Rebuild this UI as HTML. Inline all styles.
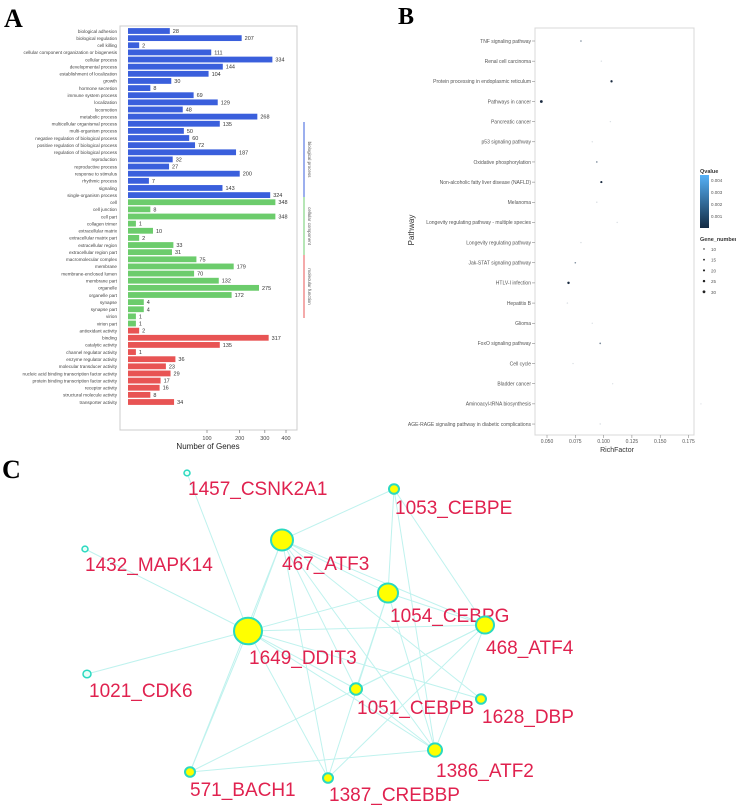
<!DOCTYPE html>
<html><head><meta charset="utf-8">
<style>
html,body{margin:0;padding:0;background:#fff;}
body{width:736px;height:808px;overflow:hidden;position:relative;font-family:"Liberation Sans",sans-serif;}
svg{position:absolute;left:0;top:0;}
</style></head>
<body>
<svg id="fig" width="736" height="808" viewBox="0 0 736 808">
<text x="4" y="27" font-family="Liberation Serif" font-weight="bold" font-size="26">A</text>
<text x="398" y="24" font-family="Liberation Serif" font-weight="bold" font-size="24">B</text>
<text x="2" y="478" font-family="Liberation Serif" font-weight="bold" font-size="26">C</text>
<g id="pa"></g>
<g id="pb"></g>
<g id="pc"></g>
</svg>
<script>
const NS="http://www.w3.org/2000/svg";
function mk(p,t,a){const e=document.createElementNS(NS,t);for(const k in a)e.setAttribute(k,a[k]);p.appendChild(e);return e;}

// ---------- Panel A data ----------
const goTerms=["biological adhesion","biological regulation","cell killing","cellular component organization or biogenesis","cellular process","developmental process","establishment of localization","growth","hormone secretion","immune system process","localization","locomotion","metabolic process","multicellular organismal process","multi-organism process","negative regulation of biological process","positive regulation of biological process","regulation of biological process","reproduction","reproductive process","response to stimulus","rhythmic process","signaling","single-organism process","cell","cell junction","cell part","collagen trimer","extracellular matrix","extracellular matrix part","extracellular region","extracellular region part","macromolecular complex","membrane","membrane-enclosed lumen","membrane part","organelle","organelle part","synapse","synapse part","virion","virion part","antioxidant activity","binding","catalytic activity","channel regulator activity","enzyme regulator activity","molecular transducer activity","nucleic acid binding transcription factor activity","protein binding transcription factor activity","receptor activity","structural molecule activity","transporter activity"];
const goValues=[28,207,2,111,334,144,104,30,8,69,129,48,268,135,50,60,72,187,32,27,200,7,143,324,348,8,348,1,10,2,33,31,75,179,70,132,275,172,4,4,1,1,2,317,135,1,36,23,29,17,16,8,34];
const goGroups=[0,0,0,0,0,0,0,0,0,0,0,0,0,0,0,0,0,0,0,0,0,0,0,0,1,1,1,1,1,1,1,1,1,1,1,1,1,1,1,1,1,1,2,2,2,2,2,2,2,2,2,2,2];
const goTicks=[100,200,300,400];
const pa=document.getElementById('pa');
const ax0=128,ak=7.9,ay0=31,ay1=402;
const ax=v=>ax0+Math.sqrt(v)*ak;
const ay=i=>ay0+i*(ay1-ay0)/(goTerms.length-1);
const cols=["#3a5fdc","#6ccc6c","#e85454"];
mk(pa,'rect',{x:120,y:26,width:177,height:404,fill:'none',stroke:'#ccc','stroke-width':1});
goTerms.forEach((t,i)=>{
  const y=ay(i);
  const r=mk(pa,'rect',{x:ax0,y:y-2.9,width:ax(goValues[i])-ax0,height:5.8,fill:cols[goGroups[i]]});
  
  
  const v=mk(pa,'text',{x:ax(goValues[i])+3,y:y+2,'font-size':5.5,fill:'#333'});v.textContent=goValues[i];
  
  
  const l=mk(pa,'text',{x:117,y:y+1.8,'font-size':4.6,fill:'#444','text-anchor':'end'});l.textContent=t;
  
  
});
goTicks.forEach(v=>{
  mk(pa,'line',{x1:ax(v),x2:ax(v),y1:430,y2:433,stroke:'#666','stroke-width':.6});
  const t=mk(pa,'text',{x:ax(v),y:440,'font-size':5.5,fill:'#444','text-anchor':'middle'});t.textContent=v;
  
  
});
{const t=mk(pa,'text',{x:208,y:449,'font-size':8,fill:'#222','text-anchor':'middle'});t.textContent="Number of Genes";

}
[["#3a5fdc",122,197,"biological process"],["#6ccc6c",197,255,"cellular component"],["#e85454",255,318,"molecular function"]].forEach(g=>{
  mk(pa,'line',{x1:304,x2:304,y1:g[1],y2:g[2],stroke:g[0],'stroke-width':1});
  const t=mk(pa,'text',{x:308,y:(g[1]+g[2])/2,'font-size':4.5,fill:'#555','text-anchor':'middle',transform:`rotate(90 308 ${(g[1]+g[2])/2})`});t.textContent=g[3];
  
  
});

// ---------- Panel B data ----------
const pathways=["TNF signaling pathway","Renal cell carcinoma","Protein processing in endoplasmic reticulum","Pathways in cancer","Pancreatic cancer","p53 signaling pathway","Oxidative phosphorylation","Non-alcoholic fatty liver disease (NAFLD)","Melanoma","Longevity regulating pathway - multiple species","Longevity regulating pathway","Jak-STAT signaling pathway","HTLV-I infection","Hepatitis B","Glioma","FoxO signaling pathway","Cell cycle","Bladder cancer","Aminoacyl-tRNA biosynthesis","AGE-RAGE signaling pathway in diabetic complications"];
const richFactor=[0.080,0.098,0.107,0.045,0.106,0.090,0.094,0.098,0.094,0.112,0.080,0.075,0.069,0.068,0.090,0.097,0.073,0.108,0.186,0.097];
const geneNum=[12,8,22,30,8,9,12,20,10,9,9,12,25,9,8,14,9,7,6,10];
const rfTicks=[0.05,0.075,0.1,0.125,0.15,0.175];
const rfTickLabels=["0.050","0.075","0.100","0.125","0.150","0.175"];
const pb=document.getElementById('pb');
const bx=v=>547+(v-0.05)/0.025*28.3;
const by=i=>41+i*20.16;
mk(pb,'rect',{x:535,y:28,width:159,height:407,fill:'none',stroke:'#d8d8d8','stroke-width':1});
pathways.forEach((p,i)=>{
  mk(pb,'line',{x1:532,x2:535,y1:by(i),y2:by(i),stroke:'#777','stroke-width':.5});
  const t=mk(pb,'text',{x:531,y:by(i)+1.8,'font-size':5,fill:'#555','text-anchor':'end'});t.textContent=p;
  
  
  const g=geneNum[i];
  const c=mk(pb,'circle',{cx:bx(richFactor[i]),cy:by(i),r:0.4+g/30,fill:g>=20?'#1a2a40':(g>=12?'#7a8a9a':'#d8dde2')});
  
  
});
rfTicks.forEach((v,i)=>{
  mk(pb,'line',{x1:bx(v),x2:bx(v),y1:435,y2:438,stroke:'#777','stroke-width':.5});
  const t=mk(pb,'text',{x:bx(v),y:443,'font-size':5,fill:'#555','text-anchor':'middle'});t.textContent=rfTickLabels[i];
  
  
});
{const t=mk(pb,'text',{x:617,y:452,'font-size':7,fill:'#333','text-anchor':'middle'});t.textContent="RichFactor";

const t2=mk(pb,'text',{x:414,y:230,'font-size':8,fill:'#333','text-anchor':'middle',transform:'rotate(-90 414 230)'});t2.textContent="Pathway";
}
const defs=mk(pb,'defs',{});const lg=mk(defs,'linearGradient',{id:'qg',x1:0,y1:0,x2:0,y2:1});
mk(lg,'stop',{offset:0,'stop-color':'#56b1f7'});mk(lg,'stop',{offset:1,'stop-color':'#132b43'});
{const t=mk(pb,'text',{x:700,y:173,'font-size':5.5,'font-weight':'bold',fill:'#333'});t.textContent="Qvalue";
}
mk(pb,'rect',{x:700,y:175,width:9,height:53,fill:'url(#qg)'});
["0.004","0.003","0.002","0.001"].forEach((s,i)=>{const t=mk(pb,'text',{x:711,y:182+i*12,'font-size':4.5,fill:'#555'});t.textContent=s;
});
{const t=mk(pb,'text',{x:700,y:241,'font-size':5.5,'font-weight':'bold',fill:'#333'});t.textContent="Gene_number";
}
[10,15,20,25,30].forEach((g,i)=>{mk(pb,'circle',{cx:704,cy:249+i*10.7,r:0.4+g/30,fill:'#222'});
const t=mk(pb,'text',{x:711,y:251+i*10.7,'font-size':4.5,fill:'#555'});t.textContent=g;
});

// ---------- Panel C ----------
const nodeNames=["1457_CSNK2A1","1053_CEBPE","467_ATF3","1432_MAPK14","1054_CEBPG","1649_DDIT3","468_ATF4","1021_CDK6","1051_CEBPB","1628_DBP","1386_ATF2","571_BACH1","1387_CREBBP"];
const nodeSize=[3,5,11,3,10,14,9,4,6,5,7,5,5];
const nodeX=[187,394,282,85,388,248,485,87,356,481,435,190,328];
const nodeY=[473,489,540,549,593,631,625,674,689,699,750,772,778];
const labelX=[188,395,282,85,390,249,486,89,357,482,436,190,329];
const labelY=[495,514,570,571,622,664,654,697,714,723,777,796,801];
const edges=[[5,0],[5,3],[5,7],[5,2],[5,4],[5,6],[5,8],[5,9],[5,10],[5,11],[5,12],[2,1],[2,4],[2,6],[2,8],[2,9],[2,10],[2,12],[1,4],[1,6],[1,10],[4,6],[4,8],[4,10],[4,12],[6,8],[6,10],[6,11],[8,10],[11,10],[12,6],[2,11]];
const pc=document.getElementById('pc');
edges.forEach(e=>{const l=mk(pc,'line',{x1:nodeX[e[0]],y1:nodeY[e[0]],x2:nodeX[e[1]],y2:nodeY[e[1]],stroke:'#bff2ee','stroke-width':1});
});
nodeNames.forEach((n,i)=>{
  const c=mk(pc,'ellipse',{cx:nodeX[i],cy:nodeY[i],rx:nodeSize[i],ry:nodeSize[i]*0.95,fill:'#ffff00',stroke:'#2ad9c0','stroke-width':nodeSize[i]>4?2:1.5});
  if(nodeSize[i]<=4)c.setAttribute('fill','#e8fff8');
  
  
  const t=mk(pc,'text',{x:labelX[i],y:labelY[i],'font-size':19,fill:'#e0224f'});t.textContent=n;
  
  
});
</script>
</body></html>
